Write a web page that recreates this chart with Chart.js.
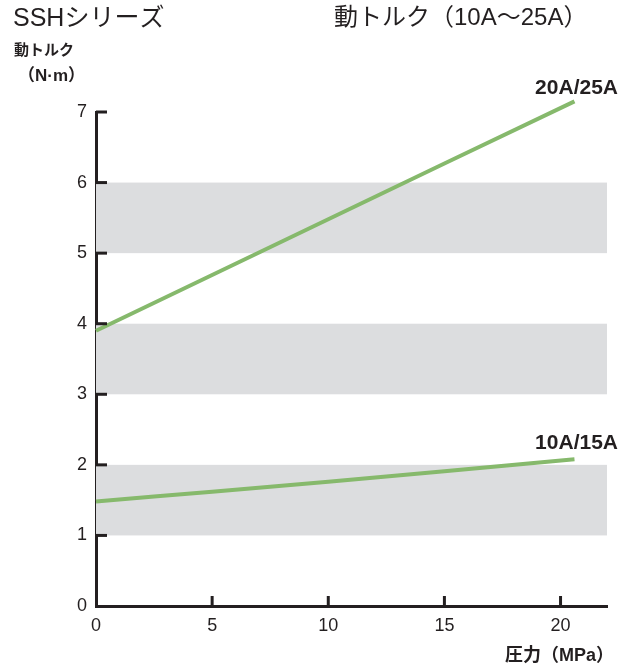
<!DOCTYPE html>
<html>
<head>
<meta charset="utf-8">
<script src="https://cdn.jsdelivr.net/npm/chart.js@4/dist/chart.umd.min.js"></script>
<style>
  html, body { margin: 0; padding: 0; background: #fff; }
  #wrap { width: 633px; height: 666px; }
</style>
</head>
<body>
<div id="wrap"><canvas id="torqueChart" width="633" height="666"></canvas></div>
<script>
// data
var pressure = [0, 5, 10, 15, 20.6];
var torqueLarge = [3.9, 4.69, 5.48, 6.27, 7.15];   // 20A/25A
var torqueSmall = [1.48, 1.62, 1.76, 1.91, 2.08];  // 10A/15A
var seriesNames = ['20A/25A', '10A/15A'];
var bands = [[1, 2], [3, 4], [5, 6]];
var xTicks = [0, 5, 10, 15, 20];

var ink = '#231f20';
var green = '#86b96c';
var fontStack = '"Liberation Sans", "Noto Sans CJK JP", sans-serif';

function pts(xs, ys) {
  return xs.map(function (x, i) { return { x: x, y: ys[i] }; });
}

// gray bands + inside tick marks + texts
var decor = {
  id: 'decor',
  beforeDatasetsDraw: function (chart) {
    var ctx = chart.ctx, x = chart.scales.x, y = chart.scales.y;
    ctx.save();
    ctx.fillStyle = '#dcdddf';
    bands.forEach(function (b) {
      var top = y.getPixelForValue(b[1]), bot = y.getPixelForValue(b[0]);
      ctx.fillRect(x.left, top, x.right - x.left, bot - top);
    });
    ctx.restore();
  },
  afterDraw: function (chart) {
    var ctx = chart.ctx, x = chart.scales.x, y = chart.scales.y;
    ctx.save();
    ctx.strokeStyle = ink;
    ctx.lineWidth = 3;
    // y ticks pointing right
    for (var v = 1; v <= 7; v++) {
      var py = y.getPixelForValue(v);
      ctx.beginPath();
      ctx.moveTo(x.left, py);
      ctx.lineTo(x.left + 11, py);
      ctx.stroke();
    }
    // x ticks pointing up
    xTicks.forEach(function (t) {
      if (t === 0) return;
      var px = x.getPixelForValue(t);
      ctx.beginPath();
      ctx.moveTo(px, y.bottom);
      ctx.lineTo(px, y.bottom - 10);
      ctx.stroke();
    });

    ctx.fillStyle = ink;
    ctx.textBaseline = 'middle';
    ctx.textAlign = 'left';
    ctx.font = '25px ' + fontStack;
    ctx.fillText('SSHシリーズ', 13, 19);
    ctx.font = '24px ' + fontStack;
    ctx.fillText('動トルク（10A～25A）', 334, 18);

    ctx.font = 'bold 15px ' + fontStack;
    ctx.fillText('動トルク', 14, 51);
    ctx.font = 'bold 17px ' + fontStack;
    ctx.fillText('（N·m）', 18, 76);

    ctx.font = 'bold 21px ' + fontStack;
    ctx.textAlign = 'right';
    ctx.fillText(seriesNames[0], 618, 88);
    ctx.fillText(seriesNames[1], 618, 443);

    ctx.font = 'bold 18px ' + fontStack;
    ctx.fillText('圧力（MPa）', 614, 656);
    ctx.restore();
  }
};

var ctxEl = document.getElementById('torqueChart');
var torqueChart = new Chart(ctxEl, {
  type: 'line',
  data: {
    datasets: [{
      label: seriesNames[0],
      data: pts(pressure, torqueLarge),
      borderColor: green,
      borderWidth: 4,
      pointRadius: 0,
      tension: 0,
      clip: false,
      fill: false
    }, {
      label: seriesNames[1],
      data: pts(pressure, torqueSmall),
      borderColor: green,
      borderWidth: 4,
      pointRadius: 0,
      tension: 0.3,
      clip: false,
      fill: false
    }]
  },
  options: {
    responsive: false,
    animation: false,
    layout: { padding: { left: 0, top: 112, right: 26, bottom: 0 } },
    plugins: { legend: { display: false }, tooltip: { enabled: false } },
    scales: {
      x: {
        type: 'linear',
        min: 0,
        max: 22,
        afterBuildTicks: function (s) {
          s.ticks = xTicks.map(function (v) { return { value: v }; });
        },
        afterFit: function (s) { s.height = 60; },
        grid: { drawOnChartArea: false, drawTicks: false },
        border: { color: ink, width: 3 },
        ticks: { padding: 9, color: ink, font: { family: fontStack, size: 18 } }
      },
      y: {
        min: 0,
        max: 7,
        ticks: { stepSize: 1, padding: 9, color: ink, font: { family: fontStack, size: 18 } },
        afterFit: function (s) { s.width = 96; },
        grid: { drawOnChartArea: false, drawTicks: false },
        border: { color: ink, width: 3 }
      }
    }
  },
  plugins: [decor]
});
</script>
</body>
</html>
